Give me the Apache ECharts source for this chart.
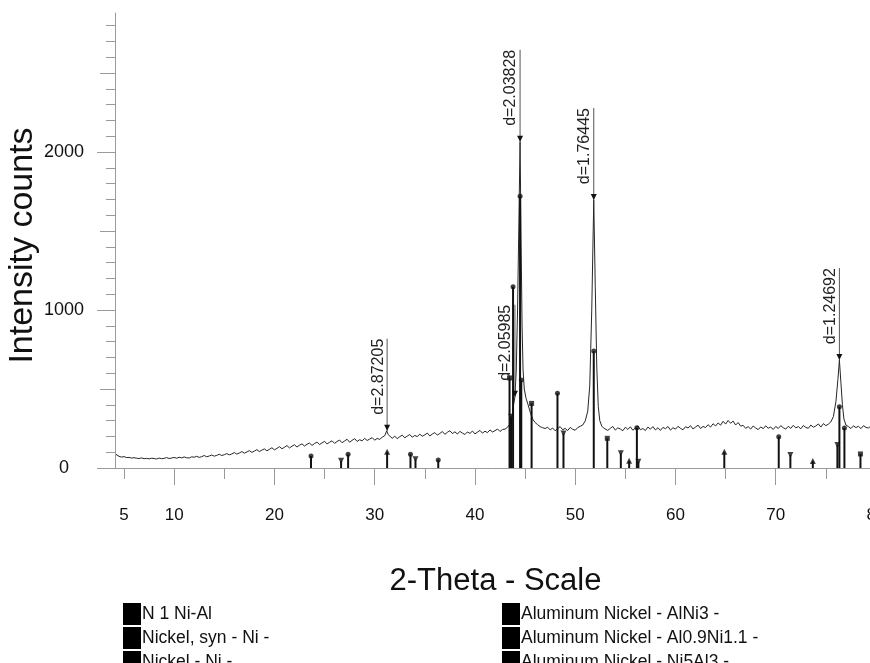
<!DOCTYPE html>
<html>
<head>
<meta charset="utf-8">
<script src="https://cdn.jsdelivr.net/npm/echarts@6/dist/echarts.min.js"></script>
<style>
  html, body { margin: 0; padding: 0; background: #fff; }
  #xrd { width: 870px; height: 663px; }
</style>
</head>
<body>
<div id="xrd"></div>
<script>
// measured scan N 1 Ni-Al: [2-theta, counts]
const scanPoints = [
  [4.2,86],[4.25,80],[4.5,74],[4.75,69],[5,72],[5.25,66],[5.5,67],[5.75,63],[6,65],[6.25,62],[6.5,60],[6.75,64],[7,59],[7.25,61],[7.5,58],[7.75,62],[8,60],[8.25,57],[8.5,63],[8.75,59],[9,61],[9.25,66],[9.5,60],[9.75,63],[10,67],
  [10.25,62],[10.5,68],[10.75,64],[11,70],[11.25,65],[11.5,63],[11.75,71],[12,68],[12.25,74],[12.5,67],[12.75,72],[13,79],[13.25,71],[13.5,76],[13.75,82],[14,75],[14.25,80],[14.5,87],[14.75,79],[15,84],
  [15.25,91],[15.5,83],[15.75,89],[16,98],[16.25,88],[16.5,95],[16.75,104],[17,94],[17.25,101],[17.5,110],[17.75,99],[18,107],[18.25,116],[18.5,104],[18.75,113],[19,121],[19.25,109],[19.5,118],[19.75,128],[20,115],
  [20.25,124],[20.5,135],[20.75,122],[21,131],[21.25,142],[21.5,127],[21.75,138],[22,147],[22.25,133],[22.5,144],[22.75,153],[23,139],[23.25,150],[23.5,158],[23.75,143],[24,155],[24.25,164],[24.5,148],[24.75,159],[25,169],
  [25.25,152],[25.5,163],[25.75,172],[26,156],[26.25,168],[26.5,177],[26.75,160],[27,171],[27.25,182],[27.5,163],[27.75,175],[28,186],[28.25,168],[28.5,179],[28.75,172],[29,188],[29.25,174],[29.5,183],[29.75,192],[30,176],[30.25,187],[30.5,181],[30.75,195],
  [31,204],[31.2,236],[31.35,211],[31.5,199],[31.75,188],
  [32,201],[32.25,186],[32.5,198],[32.75,208],[33,191],[33.25,202],[33.5,212],[33.75,195],[34,206],[34.25,199],[34.5,214],[34.75,201],[35,210],[35.25,221],[35.5,203],[35.75,215],[36,224],[36.25,208],[36.5,219],[36.75,231],[37,213],
  [37.25,226],[37.5,236],[37.75,218],[38,229],[38.25,215],[38.5,232],[38.75,221],[39,212],[39.25,228],[39.5,219],[39.75,234],[40,216],[40.25,227],[40.5,238],[40.75,221],[41,233],[41.25,224],[41.5,241],[41.75,228],[42,236],[42.25,247],[42.5,231],[42.75,244],
  [43,246],[43.25,258],[43.5,280],[43.7,330],[43.85,400],[43.99,451],[44.12,620],[44.25,1000],[44.38,1550],[44.5,2065],[44.6,1450],[44.7,900],[44.8,620],[44.92,500],[45.1,440],[45.3,400],[45.55,345],[45.8,305],[46,288],[46.25,274],[46.5,262],[46.75,255],[47,250],
  [47.25,258],[47.5,241],[47.75,253],[48,236],[48.25,249],[48.5,262],[48.75,242],[49,251],[49.25,237],[49.5,257],[49.75,245],[50,239],[50.25,256],[50.5,264],
  [50.75,272],[51,298],[51.25,360],[51.45,520],[51.65,1000],[51.85,1696],[52,1150],[52.15,640],[52.3,390],[52.45,300],[52.65,265],[52.85,252],
  [53,259],[53.25,238],[53.5,251],[53.75,263],[54,240],[54.25,254],[54.5,247],[54.75,236],[55,258],[55.25,244],[55.5,261],[55.75,239],[56,253],[56.25,266],[56.5,242],[56.75,250],[57,237],[57.25,259],[57.5,246],[57.75,262],[58,241],[58.25,255],[58.5,238],[58.75,257],
  [59,249],[59.25,263],[59.5,240],[59.75,255],[60,246],[60.25,264],[60.5,251],[60.75,242],[61,261],[61.25,253],[61.5,268],[61.75,247],[62,259],[62.25,271],[62.5,250],[62.75,263],[63,256],[63.25,274],[63.5,259],[63.75,280],[64,266],
  [64.25,285],[64.5,271],[64.75,296],[65,278],[65.25,301],[65.5,283],[65.75,297],[66,272],[66.25,288],[66.5,265],
  [66.75,270],[67,251],[67.25,262],[67.5,247],[67.75,266],[68,253],[68.25,243],[68.5,260],[68.75,249],[69,267],[69.25,252],[69.5,259],[69.75,244],[70,263],[70.25,250],[70.5,268],[70.75,255],[71,246],[71.25,264],[71.5,251],[71.75,270],
  [72,254],[72.25,262],[72.5,248],[72.75,269],[73,257],[73.25,251],[73.5,272],[73.75,258],[74,266],[74.25,279],[74.5,259],[74.75,281],[75,268],
  [75.25,278],[75.5,292],[75.75,325],[76,420],[76.2,560],[76.35,683],[76.5,540],[76.65,400],[76.8,310],[77,272],
  [77.25,262],[77.5,250],[77.75,267],[78,256],[78.25,264],[78.5,249],[78.75,268],[79,257],[79.25,253],[79.5,266],[79.75,258]
];

// reference patterns: [2-theta, stick height]
const nickelSyn = [[44.5,1720],[51.85,740],[76.35,388]];
const nickel = [[43.45,570],[45.65,409],[53.2,188],[78.45,89]];
const alNi3 = [[26.65,46],[34.07,55],[43.6,325],[48.83,219],[54.55,93],[56.3,40],[71.46,82],[76.15,146]];
const al09Ni11 = [[31.24,103],[55.38,46],[64.87,103],[73.7,44]];
const ni5Al3 = [[23.65,76],[27.35,87],[33.57,87],[36.34,51],[43.8,1147],[44.62,557],[48.23,473],[56.15,255],[70.3,198],[76.85,253]];

// peak annotations
const peakAngles = [31.24, 43.99, 44.5, 51.85, 76.35];
const peakCounts = [236, 451, 2065, 1696, 683];
const peakNames = ['d=2.87205', 'd=2.05985', 'd=2.03828', 'd=1.76445', 'd=1.24692'];

const xLabelValues = [5, 10, 20, 30, 40, 50, 60, 70, 80];
const xMajorTicks = [10, 20, 30, 40, 50, 60, 70, 80];
const xMinorTicks = [5, 15, 25, 35, 45, 55, 65, 75];
const yLabelValues = [0, 1000, 2000];
const yMidTicks = [500, 1500, 2500];

const legendLeft = ['N 1 Ni-Al', 'Nickel, syn - Ni -', 'Nickel - Ni -'];
const legendRight = ['Aluminum Nickel - AlNi3 -', 'Aluminum Nickel - Al0.9Ni1.1 -', 'Aluminum Nickel - Ni5Al3 -'];

const FONT = '"Liberation Sans", Arial, sans-serif';
const AXIS_GREY = '#9a9a9a';

const chart = echarts.init(document.getElementById('xrd'), null, { renderer: 'canvas' });

function stickSeries(name, data, symbol, size, rotate) {
  return [
    {
      name: name,
      type: 'bar',
      data: data,
      barWidth: 2,
      barGap: '-100%',
      itemStyle: { color: '#111' },
      z: 3,
    },
    {
      name: name,
      type: 'scatter',
      data: data,
      symbol: symbol,
      symbolSize: size,
      symbolRotate: rotate || 0,
      itemStyle: { color: '#111' },
      z: 4,
    },
  ];
}

function legendBlock(left, names) {
  return {
    left: left, top: 598, height: 120, orient: 'vertical', icon: 'rect',
    itemWidth: 18, itemHeight: 22, itemGap: 2, selectedMode: false,
    itemStyle: { color: '#000' },
    textStyle: { fontFamily: FONT, fontSize: 17.5, color: '#111', padding: [0, 0, 0, -4] },
    data: names,
  };
}

const xAxisBase = {
  type: 'value',
  min: 4.1,
  max: 80,
  position: 'bottom',
  splitLine: { show: false },
  axisLine: { onZero: false, lineStyle: { color: AXIS_GREY, width: 1 } },
};

const yAxisBase = {
  type: 'value',
  min: 0,
  max: 2880,
  interval: 1000,
  position: 'left',
  splitLine: { show: false },
  axisLine: { show: true, lineStyle: { color: AXIS_GREY, width: 1 } },
};

const option = {
  animation: false,
  backgroundColor: '#fff',
  grid: { left: 115, right: -6, top: 13, bottom: 195, containLabel: false, outerBoundsMode: 'none' },
  legend: [legendBlock(118, legendLeft), legendBlock(497, legendRight)],
  xAxis: [
    Object.assign({}, xAxisBase, {
      name: '2-Theta - Scale',
      nameLocation: 'middle',
      nameGap: 98,
      nameMoveOverlap: false,
      nameTextStyle: { fontFamily: FONT, fontSize: 31, color: '#111' },
      axisTick: { show: true, length: 17, customValues: xMajorTicks, lineStyle: { color: AXIS_GREY } },
      axisLabel: { customValues: xLabelValues, margin: 39, fontFamily: FONT, fontSize: 17, color: '#111' },
    }),
    Object.assign({}, xAxisBase, {
      axisLine: { show: false },
      axisTick: { show: true, length: 11, customValues: xMinorTicks, lineStyle: { color: AXIS_GREY } },
      axisLabel: { show: false },
    }),
  ],
  yAxis: [
    Object.assign({}, yAxisBase, {
      name: 'Intensity counts',
      nameLocation: 'middle',
      nameGap: 75,
      nameRotate: 90,
      nameMoveOverlap: false,
      nameTextStyle: { fontFamily: FONT, fontSize: 34, color: '#111', padding: [0, 10, 0, 0] },
      axisTick: { show: true, length: 18, customValues: yLabelValues, lineStyle: { color: AXIS_GREY } },
      minorTick: { show: true, splitNumber: 10, length: 9, lineStyle: { color: AXIS_GREY } },
      axisLabel: {
        customValues: yLabelValues, align: 'center', margin: 51,
        fontFamily: FONT, fontSize: 18, color: '#111',
        formatter: (v) => String(v),
      },
    }),
    Object.assign({}, yAxisBase, {
      axisLine: { show: false },
      axisTick: { show: true, length: 15, customValues: yMidTicks, lineStyle: { color: AXIS_GREY } },
      axisLabel: { show: false },
    }),
  ],
  series: [
    {
      name: 'N 1 Ni-Al',
      type: 'line',
      data: scanPoints,
      showSymbol: false,
      symbol: 'none',
      lineStyle: { color: '#262626', width: 1 },
      itemStyle: { color: '#262626' },
      z: 2,
    },
    ...stickSeries('Nickel, syn - Ni -', nickelSyn, 'circle', 5),
    ...stickSeries('Nickel - Ni -', nickel, 'rect', 5),
    ...stickSeries('Aluminum Nickel - AlNi3 -', alNi3, 'triangle', 6, 180),
    ...stickSeries('Aluminum Nickel - Al0.9Ni1.1 -', al09Ni11, 'triangle', 6),
    ...stickSeries('Aluminum Nickel - Ni5Al3 -', ni5Al3, 'circle', 5),
    {
      name: 'peaks',
      type: 'custom',
      data: peakAngles.map((a, i) => [a, peakCounts[i]]),
      z: 6,
      renderItem: function (params, api) {
        const p = api.coord([api.value(0), api.value(1)]);
        const top = p[1] - 92;
        return {
          type: 'group',
          children: [
            {
              type: 'line',
              shape: { x1: p[0], y1: top, x2: p[0], y2: p[1] },
              style: { stroke: '#555', lineWidth: 1 },
            },
            {
              type: 'polygon',
              shape: { points: [[p[0] - 3, p[1] - 6], [p[0] + 3, p[1] - 6], [p[0], p[1]]] },
              style: { fill: '#111' },
            },
            {
              type: 'text',
              x: p[0] - 1,
              y: top,
              rotation: Math.PI / 2,
              style: {
                text: peakNames[params.dataIndex],
                align: 'right',
                verticalAlign: 'bottom',
                fontFamily: FONT,
                fontSize: 16,
                fill: '#222',
              },
            },
          ],
        };
      },
    },
  ],
};

chart.setOption(option);
</script>
</body>
</html>
